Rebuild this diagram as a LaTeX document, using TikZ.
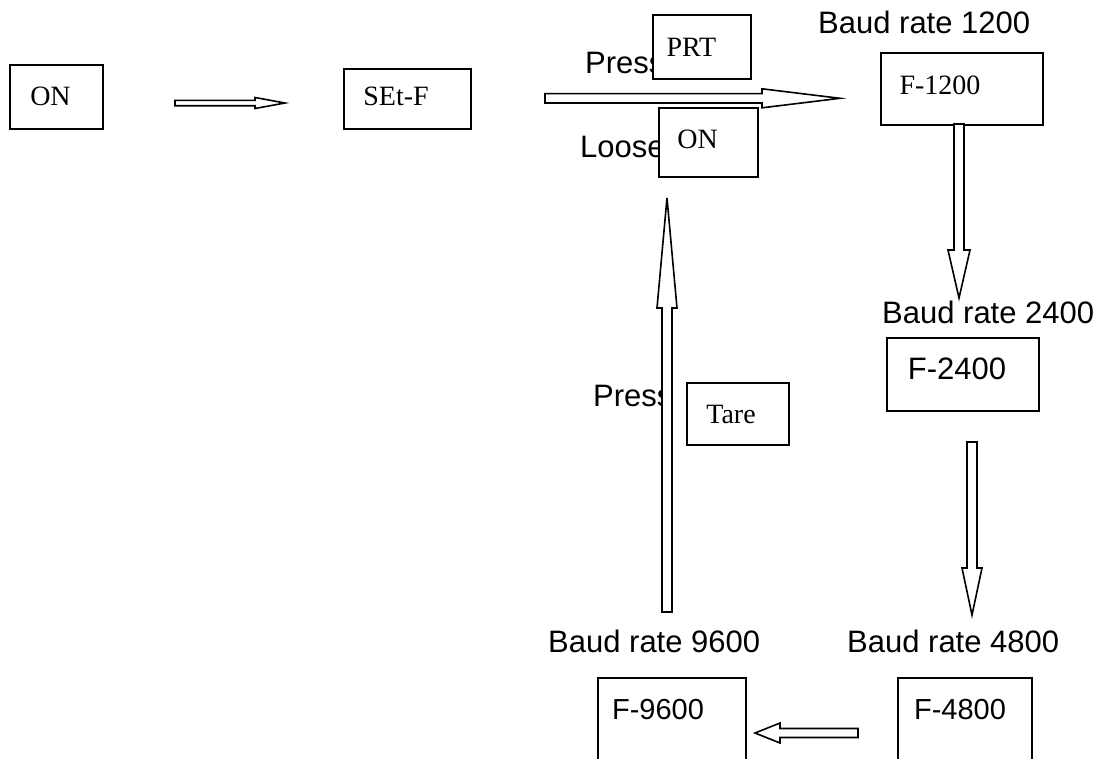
\documentclass[tikz,border=0pt]{standalone}
\usepackage{fontspec}
\setmainfont{Liberation Serif}
\setsansfont{Liberation Sans}
\usetikzlibrary{calc}
\tikzset{
 keybox/.style={draw, line width=1.7pt, fill=white, inner sep=0pt, anchor=north west},
 serif/.style={font=\fontsize{28}{33}\selectfont, inner sep=0pt, anchor=base},
 sanslbl/.style={font=\sffamily\fontsize{31}{36}\selectfont, inner sep=0pt, anchor=base west},
 sansin/.style={font=\sffamily\fontsize{31}{36}\selectfont, inner sep=0pt, anchor=base},
 sanssm/.style={font=\sffamily\fontsize{29}{34}\selectfont, inner sep=0pt, anchor=base},
 arrowline/.style={draw, line width=1.6pt, fill=white, line join=miter},
}
\newcommand\blockarr[5]{%
  \coordinate (baq) at ($(#2)!#5!(#1)$);
  \draw[arrowline] ($(#1)!#3!90:(#2)$) -- ($(baq)!#3!90:(#2)$) -- ($(baq)!#4!90:(#2)$) -- (#2)
    -- ($(baq)!#4!-90:(#2)$) -- ($(baq)!#3!-90:(#2)$) -- ($(#1)!#3!-90:(#2)$) -- cycle;}
\begin{document}
\begin{tikzpicture}[x=1pt,y=-1pt]
\useasboundingbox (0,0) rectangle (1106,758);
\clip (0,0) rectangle (1106,758);
\fill[white] (0,0) rectangle (1106,758);

% labels partly hidden behind key boxes
\node[sanslbl] (lpress1) at (585,73) {Press};
\node[sanslbl] (lloose) at (580,157) {Loose};
\node[sanslbl] (lpress2) at (593,406) {Press};

% baud rate labels
\node[sanslbl] (b1200) at (818,33) {Baud rate 1200};
\node[sanslbl] (b2400) at (882,323) {Baud rate 2400};
\node[sanslbl] (b9600) at (548,652) {Baud rate 9600};
\node[sanslbl] (b4800) at (847,652) {Baud rate 4800};

% boxes
\node[keybox, minimum width=93pt, minimum height=64pt] (on1) at (9,64) {};
\node[keybox, minimum width=127pt, minimum height=60pt] (setf) at (343,68) {};
\node[keybox, minimum width=98pt, minimum height=64pt] (prt) at (652,14) {};
\node[keybox, minimum width=99pt, minimum height=69pt] (on2) at (658,107) {};
\node[keybox, minimum width=162pt, minimum height=72pt] (f1200) at (880,52) {};
\node[keybox, minimum width=152pt, minimum height=73pt] (f2400) at (886,337) {};
\node[keybox, minimum width=148pt, minimum height=100pt] (f9600) at (597,677) {};
\node[keybox, minimum width=134pt, minimum height=100pt] (f4800) at (897,677) {};

% arrow endpoints
\coordinate (a1s) at (175,103);   \coordinate (a1e) at (285,103);
\coordinate (a2s) at (545,98.3);  \coordinate (a2e) at (840,98.3);
\coordinate (a3s) at (959,124);   \coordinate (a3e) at (959,298);
\coordinate (a4s) at (972,442);   \coordinate (a4e) at (972,615);
\coordinate (a5s) at (858,733);   \coordinate (a5e) at (755,733);
\coordinate (a6s) at (667,612);   \coordinate (a6e) at (667,198);

\blockarr{a1s}{a1e}{2.7pt}{5.5pt}{30pt}
\blockarr{a2s}{a2e}{4.7pt}{9.5pt}{78pt}
\blockarr{a3s}{a3e}{5pt}{11pt}{48pt}
\blockarr{a4s}{a4e}{5pt}{10pt}{47pt}
\blockarr{a5s}{a5e}{4.5pt}{10pt}{25pt}
\blockarr{a6s}{a6e}{5pt}{10pt}{110pt}

\node[keybox, minimum width=102pt, minimum height=62pt] (tare) at (686,382) {};

% box texts
\node[serif] (ton1) at (50.5,105) {ON};
\node[serif] (tsetf) at (396,105) {SEt-F};
\node[serif] (tprt) at (691.5,56) {PRT};
\node[serif] (ton2) at (697.5,148) {ON};
\node[serif] (tf1200) at (940,94) {F-1200};
\node[serif] (ttare) at (731,423) {Tare};
\node[sansin] (tf2400) at (957,379) {F-2400};
\node[sanssm] (tf9600) at (658,719) {F-9600};
\node[sanssm] (tf4800) at (960,719) {F-4800};
\end{tikzpicture}
\end{document}
